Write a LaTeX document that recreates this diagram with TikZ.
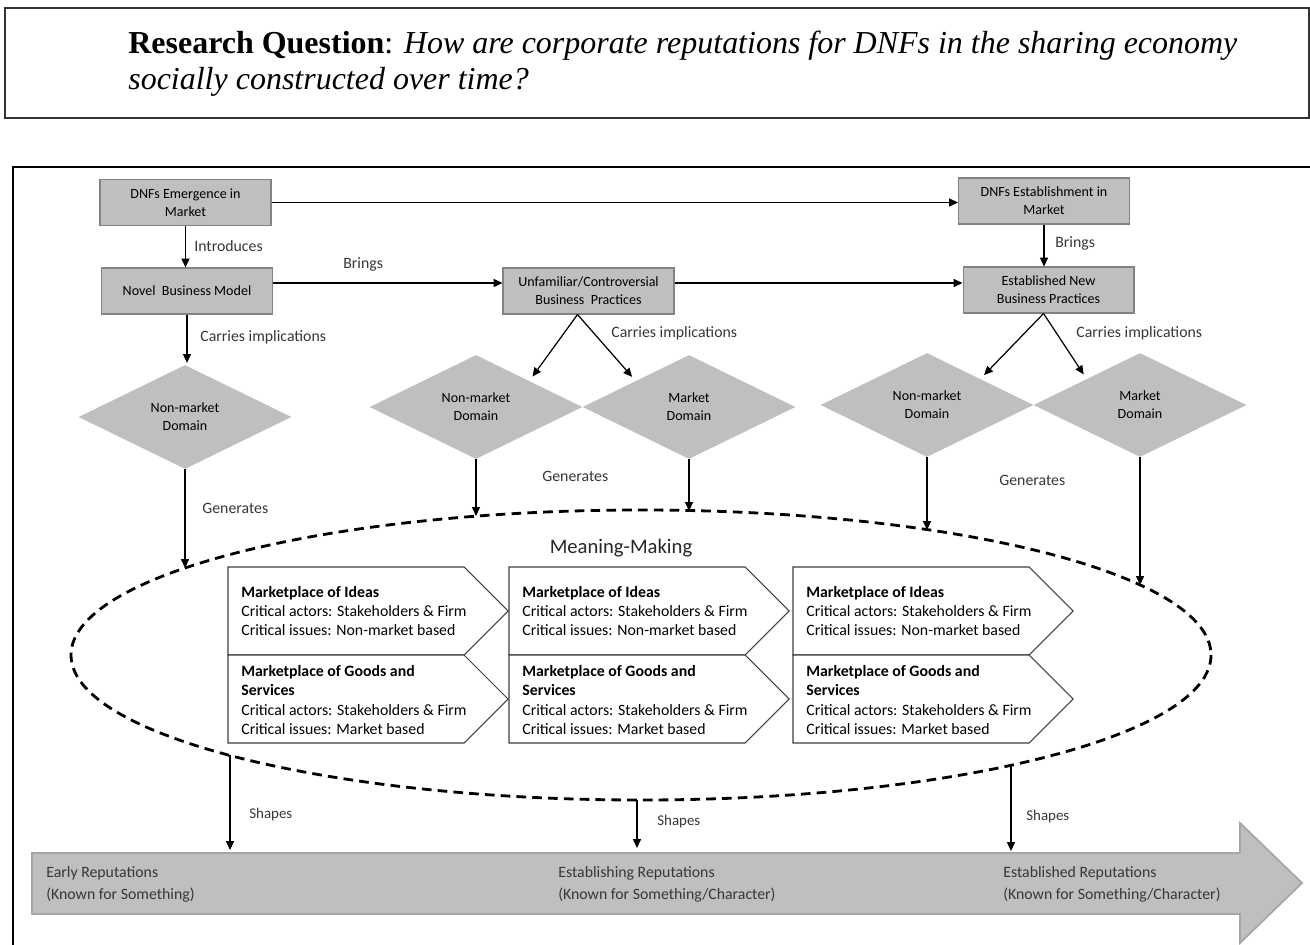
\documentclass[tikz,border=0pt]{standalone}
\usepackage{fontspec}
\setmainfont{Carlito}
\newfontfamily\rqfont{Liberation Serif}
\usepackage{tikz}
\definecolor{boxgray}{RGB}{191,191,191}
\definecolor{edgegray}{RGB}{130,130,130}
\definecolor{shaftedge}{RGB}{166,166,166}
\definecolor{labeltext}{RGB}{55,55,55}
\usetikzlibrary{
  arrows.meta,
  positioning,
  shapes.geometric,
  calc
}

\begin{document}
\begin{tikzpicture}[
  x=0.02cm, y=-0.02cm,
  stage/.style={
    draw=edgegray, fill=boxgray, line width=0.6pt,
    minimum width=3.42cm, minimum height=0.92cm, inner sep=1pt,
    align=center, font=\fontsize{8}{10.2}\selectfont
  },
  dombox/.style={
    diamond, fill=boxgray, minimum width=4.26cm, minimum height=2.08cm,
    inner sep=0pt, align=center, font=\fontsize{8}{10.2}\selectfont
  },
  lbl/.style={anchor=west, inner sep=0pt, text=labeltext, font=\fontsize{9}{11}\selectfont},
  small/.style={anchor=west, inner sep=0pt, text=labeltext, font=\fontsize{8.5}{10}\selectfont},
  arr/.style={-{Triangle[length=5pt,width=4.5pt]}, line width=0.7pt},
  mplace/.style={draw=black!75, fill=white, line width=0.6pt},
  mtext/.style={anchor=west, align=left, inner sep=0pt, font=\fontsize{9}{11}\selectfont},
  reptext/.style={anchor=west, align=left, inner sep=0pt, text=labeltext, font=\fontsize{9}{12.5}\selectfont},
]
\useasboundingbox (0,0) rectangle (1310,945);
\clip (0,0) rectangle (1310,945);

% Research question on top
\draw[draw=black!80, line width=1.1pt] (5,8) rectangle (1309,118);
\node[anchor=west, align=left, inner sep=0pt, font=\rqfont\fontsize{18.2}{20.5}\selectfont]
  (rq) at (128,64) {\textbf{Research Question}: \textit{How are corporate reputations for DNFs in the sharing economy}\\
  \textit{socially constructed over time?}};

% Outer frame (runs off the page right and bottom)
\draw[line width=1.1pt] (13,167) rectangle (1340,990);

% Stages of the firm
\node[stage] (emer)   at (185.5,202.5) {DNFs Emergence in\\Market};
\node[stage] (novel)  at (187,291)     {Novel~ Business Model};
\node[stage] (unfam)  at (588.5,291)   {Unfamiliar/Controversial\\Business~ Practices};
\node[stage] (estab)  at (1044,201)    {DNFs Establishment in\\Market};
\node[stage] (estnew) at (1048.5,290)  {Established New\\Business Practices};

% Domains
\node[dombox] (nm1) at (185,417)  {Non-market\\Domain};
\node[dombox] (nm2) at (476,407)  {Non-market\\Domain};
\node[dombox] (mk2) at (689,407)  {Market\\Domain};
\node[dombox] (nm3) at (927,405)  {Non-market\\Domain};
\node[dombox] (mk3) at (1140,405) {Market\\Domain};

% Flow between stages
\draw[arr] (emer.east) -- (emer.east -| estab.west);
\draw[arr] (emer.south) -- (emer.south |- novel.north);
\draw[arr] ([yshift=0.16cm]novel.east) -- ([yshift=0.16cm]unfam.west);
\draw[arr] ([yshift=0.16cm]unfam.east) -- ([yshift=0.16cm]unfam.east -| estnew.west);
\draw[arr] (estab.south) -- (estab.south |- estnew.north);
\draw[arr, shorten >=1pt] (novel.south) -- (novel.south |- nm1.north);
\draw[arr, shorten >=3pt] ([xshift=-0.22cm]unfam.south) -- (nm2.north east);
\draw[arr, shorten >=3pt] ([xshift=-0.22cm]unfam.south) -- (mk2.north west);
\draw[arr, shorten >=3pt] ([xshift=-0.1cm]estnew.south) -- (nm3.north east);
\draw[arr, shorten >=3pt] ([xshift=-0.1cm]estnew.south) -- (mk3.north west);

\node[lbl] (intro)  at (194,246)  {Introduces};
\node[lbl] (bring1) at (343,264)  {Brings};
\node[lbl] (bring2) at (1055,243) {Brings};
\node[lbl] (carry1) at (200,337)  {Carries implications};
\node[lbl] (carry2) at (611,333)  {Carries implications};
\node[lbl] (carry3) at (1076,333) {Carries implications};

% Meaning-making ellipse
\draw[dash pattern=on 5.5pt off 3.5pt, line width=1.6pt] (641,655) ellipse [x radius=570, y radius=145];
\node[font=\fontsize{11.75}{14}\selectfont, text=black!85] (mm) at (621,548) {Meaning-Making};

% Points where arrows meet the ellipse
\coordinate (g1) at (185,568);
\coordinate (g2) at (476,516);
\coordinate (g3) at (689,511);
\coordinate (g4) at (927,530);
\coordinate (g5) at (1140,585);
\coordinate (s1) at (230,755);
\coordinate (s2) at (637,800);
\coordinate (s3) at (1011,765);

\draw[arr] (nm1.south) -- (g1);
\draw[arr] (nm2.south) -- (g2);
\draw[arr] (mk2.south) -- (g3);
\draw[arr] (nm3.south) -- (g4);
\draw[arr] (mk3.south) -- (g5);

\node[lbl] (gen1) at (202,508) {Generates};
\node[lbl] (gen2) at (542,476) {Generates};
\node[lbl] (gen3) at (999,480) {Generates};

% Marketplaces, three columns
\foreach \L/\n in {228/1,509/2,793/3}{
  \draw[mplace] (\L,567) -- ({\L+236},567) -- ({\L+280},611) -- ({\L+236},655) -- (\L,655) -- cycle;
  \draw[mplace] (\L,655) -- ({\L+236},655) -- ({\L+280},699) -- ({\L+236},743) -- (\L,743) -- cycle;
  \node[mtext] (ideas\n) at ({\L+13},611)
    {\textbf{Marketplace of Ideas}\\Critical actors: Stakeholders \& Firm\\Critical issues: Non-market based};
  \node[mtext] (goods\n) at ({\L+13},700)
    {\textbf{Marketplace of Goods and}\\\textbf{Services}\\Critical actors: Stakeholders \& Firm\\Critical issues: Market based};
}

% Reputation timeline
\draw[draw=shaftedge, fill=boxgray, line width=1pt]
  (32,853) -- (1240,853) -- (1240,823) -- (1302,883) -- (1240,943) -- (1240,914) -- (32,914) -- cycle;
\node[reptext] (rep1) at (46,884)   {Early Reputations\\(Known for Something)};
\node[reptext] (rep2) at (558,884)  {Establishing Reputations\\(Known for Something/Character)};
\node[reptext] (rep3) at (1003,884) {Established Reputations\\(Known for Something/Character)};

\coordinate (r1) at (230,850);
\coordinate (r2) at (637,848);
\coordinate (r3) at (1011,851);
\draw[arr] (s1) -- (r1);
\draw[arr] (s2) -- (r2);
\draw[arr] (s3) -- (r3);

\node[small] (shape1) at (249,815)  {Shapes};
\node[small] (shape2) at (657,822)  {Shapes};
\node[small] (shape3) at (1026,817) {Shapes};

\end{tikzpicture}
\end{document}
